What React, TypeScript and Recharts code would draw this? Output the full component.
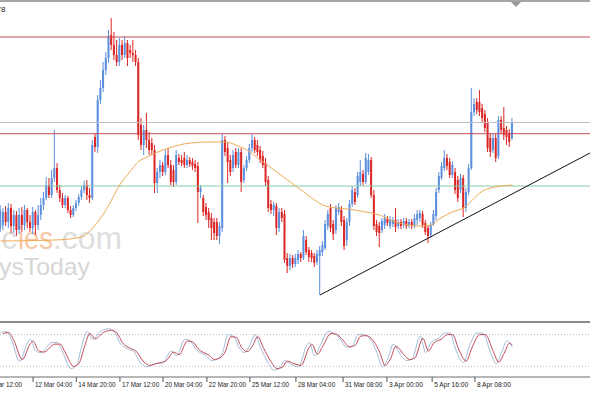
import React from 'react';
import { ComposedChart, LineChart, Bar, Line, XAxis, YAxis, ReferenceLine } from 'recharts';

// ---- price data (points), one entry per H4 bar ----
const opens = [
  172,175,188,178,192,174,185,170,185,175,
  190,178,172,188,175,185,195,202,215,205,
  222,232,210,202,195,202,190,185,192,197,
  203,210,215,205,202,263,253,300,312,330,
  342,365,355,345,338,355,345,357,350,347,
  345,338,275,255,270,260,257,250,217,228,
  235,228,245,235,230,218,242,240,242,235,
  240,238,236,234,208,202,193,188,182,178,
  178,164,172,260,252,240,232,248,235,248,
  220,232,240,252,260,255,250,244,237,220,
  196,190,194,172,188,186,142,134,142,136,
  140,146,142,160,150,147,144,138,144,148,
  152,174,192,176,170,188,190,180,160,178,
  196,208,205,218,226,218,228,240,205,176,
  174,170,175,181,174,176,180,174,178,175,
  179,175,178,174,180,182,186,177,172,165,
  176,184,210,222,232,242,238,225,228,220,
  210,222,192,208,232,288,298,298,292,286,
  278,262,250,262,244,280,272,270,267,262,
];
const highs = [
  195,192,194,197,196,190,189,192,193,195,
  192,185,193,190,195,202,208,223,222,230,
  270,237,215,207,205,204,194,195,200,206,
  214,219,220,212,260,267,305,320,338,348,
  370,382,368,360,362,360,364,360,355,360,
  350,342,282,275,287,268,262,255,232,240,
  238,250,252,240,235,250,246,245,248,245,
  243,242,240,238,215,205,197,192,187,182,
  182,178,267,264,257,245,250,252,252,252,
  235,244,256,266,263,260,254,249,242,224,
  200,198,197,192,192,190,147,146,145,146,
  150,148,170,164,153,150,147,150,154,159,
  180,190,196,180,195,197,194,184,182,200,
  214,212,228,240,230,247,246,243,210,180,
  178,182,186,184,184,183,192,181,181,182,
  182,181,181,186,190,190,189,180,175,178,
  190,212,228,238,250,246,242,239,232,224,
  226,225,212,236,312,302,302,310,296,290,
  282,266,266,266,284,284,293,274,271,282,
];
const lows = [
  168,170,174,172,167,167,164,166,168,170,
  172,168,166,165,170,180,190,200,202,202,
  218,207,198,192,192,187,182,183,189,194,
  200,207,200,197,200,248,247,296,308,325,
  337,350,340,334,334,340,342,334,342,338,
  334,260,250,245,252,245,245,207,207,222,
  224,225,232,215,213,215,235,234,232,232,
  233,230,228,177,202,184,180,172,160,160,
  160,156,168,244,217,224,228,232,232,208,
  217,229,237,248,247,244,237,232,214,188,
  186,184,165,168,178,137,127,130,132,133,
  136,138,140,145,138,138,133,135,105,144,
  150,170,168,160,166,185,174,150,154,174,
  193,195,202,214,215,216,225,202,170,164,
  153,167,171,174,171,173,168,171,171,172,
  171,172,171,172,175,178,172,165,157,162,
  174,180,207,220,229,230,222,222,206,198,
  207,183,188,205,230,284,286,284,278,268,
  248,243,247,238,241,266,260,255,253,260,
];
const closes = [
  190,188,178,192,174,185,170,185,175,190,
  178,172,188,175,185,195,202,215,205,222,
  232,210,202,195,202,190,185,192,197,203,
  210,215,205,202,255,253,300,312,330,342,
  364,355,345,338,355,345,357,342,347,345,
  338,265,255,270,260,250,250,217,228,235,
  228,245,235,218,218,245,238,237,235,240,
  236,234,232,208,212,188,185,180,172,167,
  164,174,260,248,238,228,245,235,248,218,
  232,240,252,260,250,248,240,235,218,192,
  190,195,172,188,182,140,134,142,136,142,
  146,142,164,148,143,142,137,146,150,155,
  176,186,172,166,192,193,178,154,178,196,
  210,198,224,228,218,242,240,205,174,168,
  167,179,182,177,180,180,173,178,174,179,
  174,178,174,182,186,187,175,168,164,175,
  186,208,224,234,242,234,225,235,210,202,
  222,192,208,232,288,296,290,288,282,272,
  252,248,262,242,280,270,265,263,258,278,
];

// moving average, read at sampled bars [bar, value]
const maPoints: [number, number][] = [
  [0,159],[20,160],[30,163],[34,172],[37,182],[40,195],[44,215],[48,229],[50,236],[55,244],
  [61,251],[66,255],[70,257],[77,258],[83,258],[87,255],[91,250],[96,240],[101,230],[107,218],
  [111,210],[116,200],[119,195],[124,192],[128,191],[135,188],[140,185],[146,178],[155,174],
  [159,175],[162,181],[166,187],[172,194],[175,202],[177,207],[181,212],[189,215],
];

// stochastic oscillator [bar, value]
const stochMain: [number, number][] = [
  [0,83],[2,86],[4,71],[7,29],[10,65],[11,71],[13,49],[15,46],[19,65],[21,65],[23,46],[26,16],
  [28,21],[30,59],[32,86],[34,71],[37,86],[40,91],[42,86],[44,65],[47,53],[49,49],[52,25],[54,19],
  [57,25],[60,27],[63,49],[65,40],[68,71],[70,68],[72,53],[76,40],[78,31],[80,34],[82,46],[84,80],
  [86,77],[88,56],[90,46],[92,59],[94,80],[96,56],[99,25],[101,13],[103,16],[105,31],[107,25],
  [110,19],[113,59],[114,65],[116,40],[118,59],[121,86],[123,83],[125,74],[128,56],[130,59],
  [132,80],[134,80],[137,68],[139,46],[141,19],[143,34],[145,62],[148,40],[150,31],[152,34],
  [155,77],[157,46],[159,65],[162,74],[164,83],[166,83],[168,53],[171,27],[173,56],[176,83],
  [178,83],[181,46],[183,25],[185,46],[187,68],[189,56],
];
const stochSignal: [number, number][] = [
  [1,82],[3,84],[5,68],[8,33],[11,63],[12,68],[14,50],[16,47],[20,62],[22,62],[24,45],[27,20],
  [29,26],[31,57],[33,82],[35,72],[38,84],[41,88],[43,83],[45,65],[48,54],[50,49],[53,28],[55,22],
  [58,26],[61,30],[64,47],[66,42],[69,68],[71,66],[73,53],[77,41],[79,33],[81,36],[83,48],[85,76],
  [87,75],[89,56],[91,48],[93,58],[95,76],[97,56],[100,28],[102,16],[104,18],[106,30],[108,26],
  [111,22],[114,56],[115,62],[117,43],[119,58],[122,82],[124,81],[126,72],[129,57],[131,60],
  [133,77],[135,78],[138,66],[140,47],[142,22],[144,34],[146,58],[149,42],[151,33],[153,36],
  [156,73],[158,49],[160,64],[163,72],[165,80],[167,80],[169,55],[172,30],[174,54],[177,80],
  [179,80],[182,48],[184,28],[186,45],[188,64],[189,60],
];

// time axis labels
const tickBars = [-5.4, 12, 28, 44.1, 60, 76.2, 92.1, 109.1, 126.5, 142.7, 159.4, 175.2];
const tickLabels = [
  '9 Mar 12:00', '12 Mar 04:00', '14 Mar 20:00', '17 Mar 12:00', '20 Mar 04:00', '22 Mar 20:00',
  '25 Mar 12:00', '28 Mar 04:00', '31 Mar 08:00', '3 Apr 00:00', '5 Apr 16:00', '8 Apr 08:00',
];

// horizontal levels and trend line
const redLevels = [363, 266.3];
const grayLevel = 277.5;
const greenLevel = 214;
const trendFrom = { bar: 118, price: 105 };
const trendTo = { bar: 217.7, price: 247 };

const X_DOMAIN: [number, number] = [-0.2, 217.7];
const Y_DOMAIN: [number, number] = [78, 398];

const BLUE = '#5b8fdd';
const RED = '#dc2626';

const maMap = new Map(maPoints);
const kMap = new Map(stochMain);
const dMap = new Map(stochSignal);

const candleData = opens.map((o, i) => ({
  i,
  o,
  h: highs[i],
  l: lows[i],
  c: closes[i],
  range: [lows[i], highs[i]],
  ma: maMap.has(i) ? maMap.get(i) : null,
}));

const stochData = opens.map((_, i) => ({
  i,
  k: kMap.has(i) ? kMap.get(i) : null,
  d: dMap.has(i) ? dMap.get(i) : null,
}));

const Candle = (props: any) => {
  const { x, y, width, height, payload } = props;
  if (x == null || y == null || !payload) return null;
  const top = Math.min(y, y + height);
  const bot = Math.max(y, y + height);
  const { o, h, l, c } = payload;
  const span = h - l || 1;
  const py = (v: number) => top + ((h - v) / span) * (bot - top);
  const cx = x + width / 2;
  const col = c >= o ? BLUE : RED;
  const bTop = py(Math.max(o, c));
  const bBot = py(Math.min(o, c));
  return (
    <g>
      <line x1={cx} x2={cx} y1={top} y2={bot} stroke={col} strokeWidth={1} />
      <rect x={cx - 1} y={bTop} width={2} height={Math.max(1, bBot - bTop)} fill={col} />
    </g>
  );
};

const TimeTick = (props: any) => {
  const { x, y, payload } = props;
  const idx = tickBars.indexOf(payload.value);
  const label = idx >= 0 ? tickLabels[idx] : '';
  return (
    <g>
      <line x1={x} x2={x} y1={y} y2={y + 5} stroke="#555" strokeWidth={1} />
      <text
        x={x + 2}
        y={y + 10}
        fontSize={8}
        fontFamily="Liberation Sans, Arial, sans-serif"
        fill="#222"
        textLength={label.length * 3.1}
        lengthAdjust="spacingAndGlyphs"
      >
        {label}
      </text>
    </g>
  );
};

export default function App() {
  return (
    <div
      style={{
        position: 'absolute',
        left: 0,
        top: 0,
        width: 590,
        height: 393,
        overflow: 'hidden',
        background: '#ffffff',
      }}
    >
      {/* watermark */}
      <svg width={590} height={393} style={{ position: 'absolute', left: 0, top: 0 }}>
        <text x={17} y={249} textAnchor="end" fontSize={31} fontFamily="Liberation Sans, Arial, sans-serif" fill="#dedede">
          currenc
        </text>
        <text x={18} y={249} fontSize={31} fontFamily="Liberation Sans, Arial, sans-serif" fill="#f7c8a6" textLength={35} lengthAdjust="spacingAndGlyphs">
          ies
        </text>
        <text x={53} y={249} fontSize={31} fontFamily="Liberation Sans, Arial, sans-serif" fill="#dedede" textLength={69} lengthAdjust="spacingAndGlyphs">
          .com
        </text>
        <text x={-1} y={275} fontSize={24} fontFamily="Liberation Sans, Arial, sans-serif" fill="#d6d6d6" textLength={91} lengthAdjust="spacingAndGlyphs">
          ysToday
        </text>
      </svg>

      {/* main price window */}
      <div style={{ position: 'absolute', left: 0, top: 0 }}>
        <ComposedChart width={590} height={322} data={candleData} margin={{ top: 2, right: 0, bottom: 0, left: 0 }}>
          <XAxis dataKey="i" type="number" domain={X_DOMAIN} allowDataOverflow hide />
          <YAxis type="number" domain={Y_DOMAIN} allowDataOverflow hide />
          <ReferenceLine y={redLevels[0]} stroke="#c84a58" strokeWidth={1} />
          <ReferenceLine y={grayLevel} stroke="#c4bcc4" strokeWidth={1} />
          <ReferenceLine y={redLevels[1]} stroke="#c84a58" strokeWidth={1} />
          <ReferenceLine y={greenLevel} stroke="#86cca4" strokeWidth={1} />
          <Bar dataKey="range" barSize={2} shape={Candle} isAnimationActive={false} />
          <Line
            dataKey="ma"
            type="monotone"
            connectNulls
            dot={false}
            stroke="#eeaa55"
            strokeWidth={1}
            isAnimationActive={false}
          />
          <ReferenceLine
            segment={[
              { x: trendFrom.bar, y: trendFrom.price },
              { x: trendTo.bar, y: trendTo.price },
            ]}
            stroke="#111111"
            strokeWidth={1}
            ifOverflow="visible"
          />
        </ComposedChart>
      </div>

      {/* stochastic window */}
      <div style={{ position: 'absolute', left: 0, top: 322 }}>
        <LineChart width={590} height={71} data={stochData} margin={{ top: 2, right: 0, bottom: 0, left: 0 }}>
          <XAxis
            dataKey="i"
            type="number"
            domain={X_DOMAIN}
            allowDataOverflow
            ticks={tickBars}
            interval={0}
            tickSize={0}
            tickMargin={0}
            tick={<TimeTick />}
            tickLine={false}
            axisLine={{ stroke: '#6f6f6f', strokeWidth: 1 }}
            height={16}
          />
          <YAxis type="number" domain={[0, 100]} allowDataOverflow hide />
          <ReferenceLine y={80} stroke="#bdbdbd" strokeDasharray="1 2" />
          <ReferenceLine y={20} stroke="#bdbdbd" strokeDasharray="1 2" />
          <Line dataKey="k" type="monotone" connectNulls dot={false} stroke="#a3bcd8" strokeWidth={1} isAnimationActive={false} />
          <Line dataKey="d" type="monotone" connectNulls dot={false} stroke="#c24a5a" strokeWidth={1} isAnimationActive={false} />
        </LineChart>
      </div>

      {/* window frame decorations */}
      <svg width={590} height={393} style={{ position: 'absolute', left: 0, top: 0, pointerEvents: 'none' }}>
        <rect x={0} y={0} width={590} height={2} fill="#a6a6a6" />
        <polygon points="511,2 521,2 516,7" fill="#9a9a9a" />
        <rect x={0} y={321} width={590} height={2} fill="#8a8a8a" />
        <text x={5.5} y={11.5} textAnchor="end" fontSize={8} fontFamily="Liberation Sans, Arial, sans-serif" fill="#222">
          78
        </text>
      </svg>
    </div>
  );
}
